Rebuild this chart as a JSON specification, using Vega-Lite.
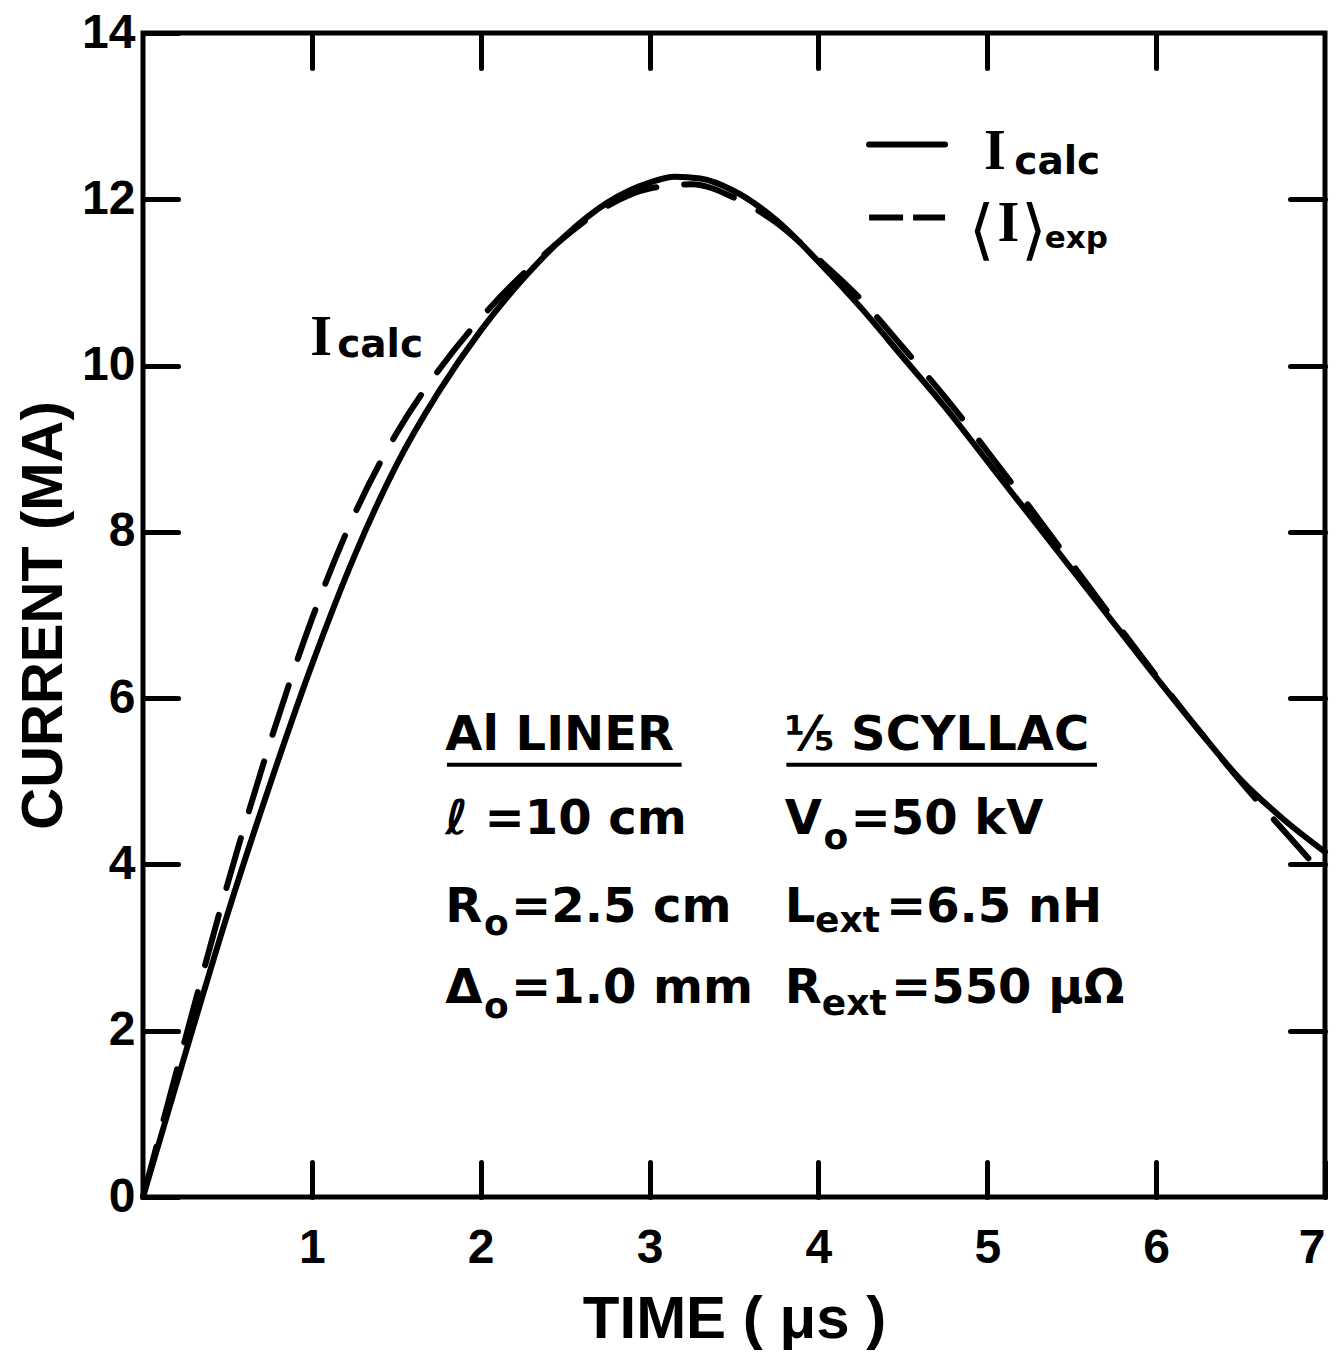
{
  "$schema": "https://vega.github.io/schema/vega-lite/v6.json",
  "width": 1182,
  "height": 1164,
  "autosize": {"type": "none"},
  "padding": {"left": 143, "top": 33, "right": 19, "bottom": 164},
  "background": "white",
  "config": {
    "view": {"stroke": "black", "strokeWidth": 5},
    "axis": {
      "domain": false,
      "grid": false,
      "labelFont": "Liberation Sans",
      "labelFontWeight": "bold",
      "labelFontSize": 48,
      "labelColor": "black",
      "tickColor": "black",
      "tickWidth": 5,
      "tickSize": -35,
      "tickCap": "round",
      "titleFont": "Liberation Sans",
      "titleFontWeight": "bold",
      "titleColor": "black"
    }
  },
  "resolve": {"axis": {"x": "independent", "y": "independent"}},
  "layer": [
    {
      "data": {"values": [
        {"t": 0, "I": 0}, {"t": 0.25, "I": 1.72}, {"t": 0.5, "I": 3.4}, {"t": 0.75, "I": 4.95},
        {"t": 1.0, "I": 6.4}, {"t": 1.25, "I": 7.7}, {"t": 1.5, "I": 8.8}, {"t": 1.75, "I": 9.68},
        {"t": 2.0, "I": 10.42}, {"t": 2.25, "I": 11.04}, {"t": 2.5, "I": 11.56}, {"t": 2.75, "I": 11.96},
        {"t": 3.0, "I": 12.2}, {"t": 3.15, "I": 12.27}, {"t": 3.3, "I": 12.25}, {"t": 3.5, "I": 12.1},
        {"t": 3.75, "I": 11.75}, {"t": 4.0, "I": 11.25}, {"t": 4.25, "I": 10.7}, {"t": 4.5, "I": 10.1},
        {"t": 4.75, "I": 9.5}, {"t": 5.0, "I": 8.85}, {"t": 5.25, "I": 8.2}, {"t": 5.5, "I": 7.55},
        {"t": 5.75, "I": 6.9}, {"t": 6.0, "I": 6.25}, {"t": 6.25, "I": 5.62}, {"t": 6.5, "I": 5.02},
        {"t": 6.75, "I": 4.55}, {"t": 7.0, "I": 4.15}
      ]},
      "mark": {"type": "line", "color": "black", "strokeWidth": 6, "interpolate": "monotone", "strokeCap": "round"},
      "encoding": {
        "x": {"field": "t", "type": "quantitative", "scale": {"domain": [0, 7], "nice": false, "zero": false},
          "axis": {"orient": "bottom", "values": [1, 2, 3, 4, 5, 6, 7], "title": "TIME ( μs )", "titleFontSize": 60, "titlePadding": 18, "labelPadding": 62}},
        "y": {"field": "I", "type": "quantitative", "scale": {"domain": [0, 14], "nice": false, "zero": false},
          "axis": {"orient": "left", "values": [0, 2, 4, 6, 8, 10, 12, 14], "title": "CURRENT (MA)", "titleFontSize": 58, "titlePadding": 8, "labelPadding": 43}}
      }
    },
    {
      "data": {"values": [
        {"t": 0, "I": 0}, {"t": 0.25, "I": 1.9}, {"t": 0.5, "I": 3.76}, {"t": 0.75, "I": 5.45},
        {"t": 1.0, "I": 6.95}, {"t": 1.25, "I": 8.2}, {"t": 1.5, "I": 9.18}, {"t": 1.75, "I": 9.94},
        {"t": 2.0, "I": 10.57}, {"t": 2.25, "I": 11.1}, {"t": 2.5, "I": 11.55}, {"t": 2.75, "I": 11.92},
        {"t": 3.0, "I": 12.13}, {"t": 3.25, "I": 12.18}, {"t": 3.5, "I": 12.02}, {"t": 3.75, "I": 11.72},
        {"t": 4.0, "I": 11.28}, {"t": 4.25, "I": 10.8}, {"t": 4.5, "I": 10.22}, {"t": 4.75, "I": 9.62},
        {"t": 5.0, "I": 8.97}, {"t": 5.25, "I": 8.3}, {"t": 5.5, "I": 7.62}, {"t": 5.75, "I": 6.94},
        {"t": 6.0, "I": 6.27}, {"t": 6.25, "I": 5.62}, {"t": 6.5, "I": 5.0}, {"t": 6.75, "I": 4.42},
        {"t": 7.0, "I": 3.85}
      ]},
      "mark": {"type": "line", "color": "black", "strokeWidth": 6, "interpolate": "monotone", "strokeDash": [52, 28], "strokeCap": "round"},
      "encoding": {
        "x": {"field": "t", "type": "quantitative", "scale": {"domain": [0, 7], "nice": false, "zero": false},
          "axis": {"orient": "top", "values": [1, 2, 3, 4, 5, 6], "labels": false, "title": null}},
        "y": {"field": "I", "type": "quantitative", "scale": {"domain": [0, 14], "nice": false, "zero": false},
          "axis": {"orient": "right", "values": [2, 4, 6, 8, 10, 12], "labels": false, "title": null}}
      }
    },
    {
      "data": {"values": [
        {"x": 1.79, "y": 5.38, "text": "Al LINER"},
        {"x": 3.8, "y": 5.38, "text": "⅕ SCYLLAC"},
        {"x": 1.79, "y": 4.36, "text": "ℓ =10 cm"},
        {"x": 3.8, "y": 4.36, "text": "V"},
        {"x": 4.19, "y": 4.36, "text": "=50 kV"},
        {"x": 1.79, "y": 3.31, "text": "R"},
        {"x": 2.18, "y": 3.31, "text": "=2.5 cm"},
        {"x": 3.8, "y": 3.31, "text": "L"},
        {"x": 4.4, "y": 3.31, "text": "=6.5 nH"},
        {"x": 1.79, "y": 2.33, "text": "Δ"},
        {"x": 2.18, "y": 2.33, "text": "=1.0 mm"},
        {"x": 3.8, "y": 2.33, "text": "R"},
        {"x": 4.43, "y": 2.33, "text": "=550 μΩ"}
      ]},
      "mark": {"type": "text", "align": "left", "baseline": "alphabetic", "font": "DejaVu Sans", "fontWeight": "bold", "fontSize": 48, "color": "black"},
      "encoding": {
        "x": {"field": "x", "type": "quantitative", "axis": null},
        "y": {"field": "y", "type": "quantitative", "axis": null},
        "text": {"field": "text"}
      }
    },
    {
      "data": {"values": [
        {"x": 4.03, "y": 4.18, "text": "o"},
        {"x": 2.02, "y": 3.15, "text": "o"},
        {"x": 3.98, "y": 3.19, "text": "ext"},
        {"x": 2.02, "y": 2.15, "text": "o"},
        {"x": 4.02, "y": 2.19, "text": "ext"}
      ]},
      "mark": {"type": "text", "align": "left", "baseline": "alphabetic", "font": "DejaVu Sans", "fontWeight": "bold", "fontSize": 36, "color": "black"},
      "encoding": {
        "x": {"field": "x", "type": "quantitative", "axis": null},
        "y": {"field": "y", "type": "quantitative", "axis": null},
        "text": {"field": "text"}
      }
    },
    {
      "data": {"values": [
        {"x": 1.15, "y": 10.1, "text": "calc"},
        {"x": 5.16, "y": 12.3, "text": "calc"}
      ]},
      "mark": {"type": "text", "align": "left", "baseline": "alphabetic", "font": "DejaVu Sans", "fontWeight": "bold", "fontSize": 39, "color": "black"},
      "encoding": {
        "x": {"field": "x", "type": "quantitative", "axis": null},
        "y": {"field": "y", "type": "quantitative", "axis": null},
        "text": {"field": "text"}
      }
    },
    {
      "data": {"values": [
        {"x": 5.34, "y": 11.42, "text": "exp"}
      ]},
      "mark": {"type": "text", "align": "left", "baseline": "alphabetic", "font": "DejaVu Sans", "fontWeight": "bold", "fontSize": 31, "color": "black"},
      "encoding": {
        "x": {"field": "x", "type": "quantitative", "axis": null},
        "y": {"field": "y", "type": "quantitative", "axis": null},
        "text": {"field": "text"}
      }
    },
    {
      "data": {"values": [
        {"x": 0.99, "y": 10.13, "text": "I"},
        {"x": 4.98, "y": 12.36, "text": "I"},
        {"x": 5.06, "y": 11.5, "text": "I"}
      ]},
      "mark": {"type": "text", "align": "left", "baseline": "alphabetic", "font": "Liberation Serif", "fontWeight": "bold", "fontSize": 56, "color": "black"},
      "encoding": {
        "x": {"field": "x", "type": "quantitative", "axis": null},
        "y": {"field": "y", "type": "quantitative", "axis": null},
        "text": {"field": "text"}
      }
    },
    {
      "data": {"values": [
        {"x": 4.89, "y": 11.36, "text": "⟨"},
        {"x": 5.2, "y": 11.36, "text": "⟩"}
      ]},
      "mark": {"type": "text", "align": "left", "baseline": "alphabetic", "font": "DejaVu Sans", "fontSize": 66, "color": "black"},
      "encoding": {
        "x": {"field": "x", "type": "quantitative", "axis": null},
        "y": {"field": "y", "type": "quantitative", "axis": null},
        "text": {"field": "text"}
      }
    },
    {
      "data": {"values": [
        {"x": 1.8, "x2": 3.19, "y": 5.2},
        {"x": 3.81, "x2": 5.65, "y": 5.2}
      ]},
      "mark": {"type": "rule", "color": "black", "strokeWidth": 4},
      "encoding": {
        "x": {"field": "x", "type": "quantitative", "axis": null},
        "x2": {"field": "x2"},
        "y": {"field": "y", "type": "quantitative", "axis": null}
      }
    },
    {
      "data": {"values": [
        {"x": 4.3, "x2": 4.75, "y": 12.66}
      ]},
      "mark": {"type": "rule", "color": "black", "strokeWidth": 6, "strokeCap": "round"},
      "encoding": {
        "x": {"field": "x", "type": "quantitative", "axis": null},
        "x2": {"field": "x2"},
        "y": {"field": "y", "type": "quantitative", "axis": null}
      }
    },
    {
      "data": {"values": [
        {"x": 4.3, "x2": 4.75, "y": 11.78}
      ]},
      "mark": {"type": "rule", "color": "black", "strokeWidth": 6, "strokeDash": [34, 10]},
      "encoding": {
        "x": {"field": "x", "type": "quantitative", "axis": null},
        "x2": {"field": "x2"},
        "y": {"field": "y", "type": "quantitative", "axis": null}
      }
    }
  ]
}
